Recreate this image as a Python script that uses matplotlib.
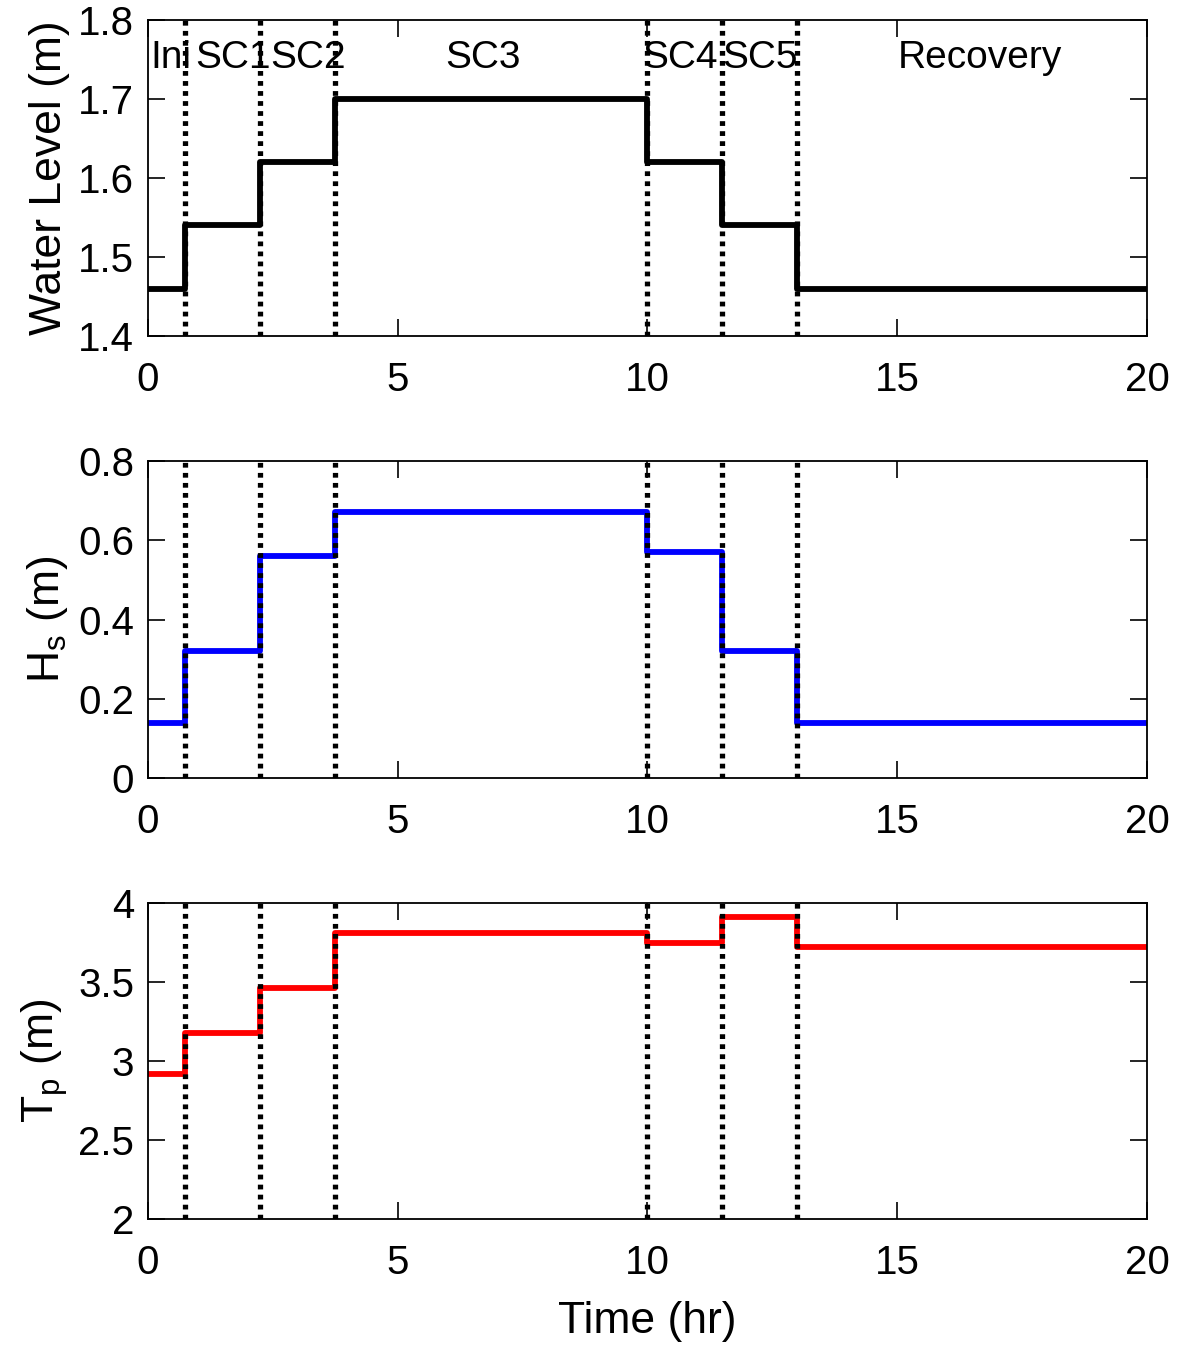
import numpy as np
import matplotlib.pyplot as plt

plt.rcParams['font.family'] = ['Liberation Sans', 'DejaVu Sans']
plt.rcParams['mathtext.fontset'] = 'custom'
plt.rcParams['mathtext.rm'] = 'Liberation Sans'

# phase boundaries (hr)
bounds = [0.75, 2.25, 3.75, 10.0, 11.5, 13.0]
edges = [0.0] + bounds + [20.0]

# values per phase
water = [1.46, 1.54, 1.62, 1.70, 1.62, 1.54, 1.46]
hs = [0.14, 0.32, 0.56, 0.67, 0.57, 0.32, 0.14]
tp = [2.92, 3.18, 3.46, 3.81, 3.75, 3.91, 3.72]

phase_names = ['Ini', 'SC1', 'SC2', 'SC3', 'SC4', 'SC5', 'Recovery']
phase_x = [0.05, 0.95, 2.45, 6.7, 9.9, 11.5, 16.65]
phase_ha = ['left', 'left', 'left', 'center', 'left', 'left', 'center']


def step_xy(vals):
    x = np.repeat(edges, 2)[1:-1]
    y = np.repeat(vals, 2)
    return x, y


fig = plt.figure(figsize=(11.81, 13.51), dpi=100)
rects = [
    [0.1253, 0.7513, 0.8459, 0.2337],
    [0.1253, 0.4241, 0.8459, 0.2347],
    [0.1253, 0.0977, 0.8459, 0.2339],
]
series = [water, hs, tp]
colors = ['black', '#0000ff', '#ff0000']
ylims = [(1.4, 1.8), (0, 0.8), (2, 4)]
yticks = [np.arange(1.4, 1.81, 0.1), np.arange(0, 0.81, 0.2), np.arange(2, 4.01, 0.5)]
ytl = [['1.4', '1.5', '1.6', '1.7', '1.8'],
       ['0', '0.2', '0.4', '0.6', '0.8'],
       ['2', '2.5', '3', '3.5', '4']]
ylabels = ['Water Level (m)', r'H$_\mathregular{s}$ (m)', r'T$_\mathregular{p}$ (m)']

for i in range(3):
    ax = fig.add_axes(rects[i])
    x, y = step_xy(series[i])
    ax.plot(x, y, color=colors[i], lw=4.2, zorder=2)
    for b in bounds:
        ax.axvline(b, color='black', ls=(0, (0.9, 1.0)), lw=3.8, zorder=3)
    ax.set_xlim(0, 20)
    ax.set_ylim(*ylims[i])
    ax.set_xticks([0, 5, 10, 15, 20])
    ax.set_yticks(yticks[i])
    ax.set_yticklabels(ytl[i])
    ax.tick_params(direction='in', length=12, width=1.2, labelsize=29,
                   top=True, right=True, pad=10)
    ax.tick_params(axis='x', pad=18)
    for s in ax.spines.values():
        s.set_linewidth(1.3)
    ax.set_ylabel(ylabels[i], fontsize=32, labelpad=6)
    if i == 0:
        for name, px, ha in zip(phase_names, phase_x, phase_ha):
            ax.text(px, 1.752, name, fontsize=28, ha=ha, va='center', zorder=1)
    if i == 2:
        ax.set_xlabel('Time (hr)', fontsize=32, labelpad=14)

fig.savefig('out.png', dpi=100)
